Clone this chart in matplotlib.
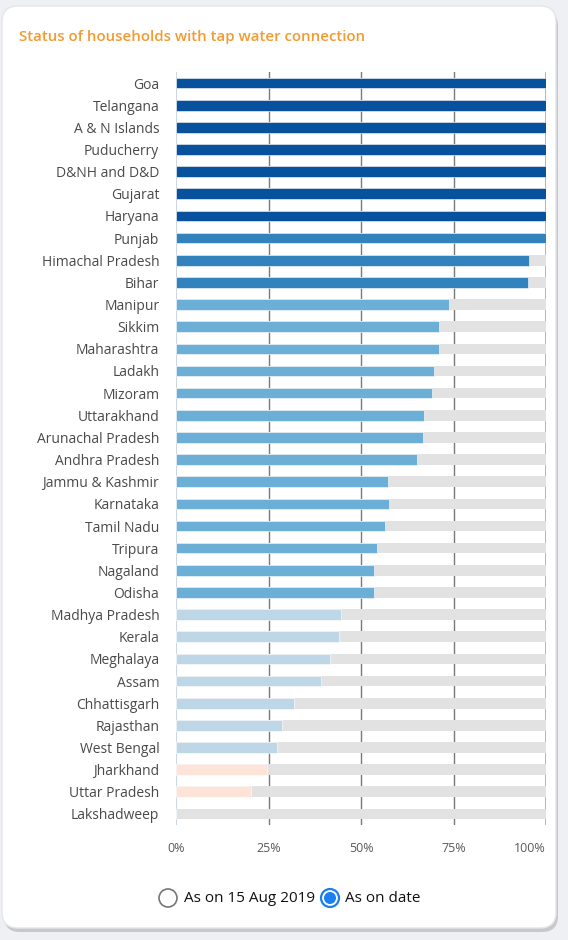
import matplotlib.pyplot as plt
from matplotlib.patches import FancyBboxPatch, Circle

states = ['Goa', 'Telangana', 'A & N Islands', 'Puducherry', 'D&NH and D&D',
          'Gujarat', 'Haryana', 'Punjab', 'Himachal Pradesh', 'Bihar',
          'Manipur', 'Sikkim', 'Maharashtra', 'Ladakh', 'Mizoram',
          'Uttarakhand', 'Arunachal Pradesh', 'Andhra Pradesh',
          'Jammu & Kashmir', 'Karnataka', 'Tamil Nadu', 'Tripura',
          'Nagaland', 'Odisha', 'Madhya Pradesh', 'Kerala', 'Meghalaya',
          'Assam', 'Chhattisgarh', 'Rajasthan', 'West Bengal', 'Jharkhand',
          'Uttar Pradesh', 'Lakshadweep']
coverage = [100, 100, 100, 100, 100, 100, 100, 99.9, 95.5, 95.1,
            73.8, 71.1, 71.1, 69.6, 69.2, 67.0, 66.8, 65.1, 57.3,
            57.5, 56.5, 54.4, 53.4, 53.4, 44.6, 44.0, 41.6, 39.2,
            31.8, 28.6, 27.4, 24.5, 20.2, 0.0]
tick_values = [0, 25, 50, 75, 100]
tick_labels = ['0%', '25%', '50%', '75%', '100%']


def bar_colour(v):
    if v >= 100:
        return '#08519c'
    if v >= 90:
        return '#3182bd'
    if v >= 50:
        return '#6baed6'
    if v >= 25:
        return '#bdd7e7'
    return '#fde3d8'


W, H = 568, 940
fig = plt.figure(figsize=(W / 100, H / 100), dpi=100)
fig.patch.set_facecolor('#eef0f3')

# background layer: card, title and the radio-button legend
bg = fig.add_axes([0, 0, 1, 1], zorder=0)
bg.set_xlim(0, W)
bg.set_ylim(H, 0)
bg.axis('off')
bg.add_patch(FancyBboxPatch((4, 10), 554, 922, boxstyle='round,pad=0,rounding_size=16',
                            facecolor='#c8c8c8', edgecolor='none'))
bg.add_patch(FancyBboxPatch((2, 6), 554, 922, boxstyle='round,pad=0,rounding_size=16',
                            facecolor='white', edgecolor='#e4e6ea', lw=1))
bg.text(19, 37, 'Status of households with tap water connection', color='#f39a30',
        fontsize=10.8, fontweight='semibold', family='Open Sans', va='center')

bg.add_patch(Circle((168, 898), 9, facecolor='white', edgecolor='#777777', lw=1.2))
bg.text(184, 898, 'As on 15 Aug 2019', fontsize=11, family='Open Sans',
        color='#111111', va='center')
bg.add_patch(Circle((330, 898), 9, facecolor='white', edgecolor='#1a7ff0', lw=1.6))
bg.add_patch(Circle((330, 898), 6, facecolor='#1a7ff0', edgecolor='none'))
bg.text(345, 898, 'As on date', fontsize=11, family='Open Sans',
        color='#111111', va='center')

# chart
ax = fig.add_axes([176 / W, 1 - 825 / H, 370 / W, 753 / H], zorder=1)
ax.set_facecolor('none')
rows = list(range(len(states)))

for x in [25, 50, 75]:
    ax.axvline(x, color='#7a7a7a', lw=1, zorder=0)
ax.axvline(0, color='#cdd7e2', lw=1.5, zorder=0)
ax.axvline(100, color='#a8a8a8', lw=1.2, zorder=0)

ax.barh(rows, [100] * len(states), height=0.48, color='#e2e2e2', zorder=1)
ax.barh(rows, coverage, height=0.48, color=[bar_colour(v) for v in coverage],
        edgecolor='white', lw=0.4, zorder=2)

ax.set_xlim(0, 100)
ax.set_ylim(len(states) - 0.5, -0.5)
for s in ax.spines.values():
    s.set_visible(False)
ax.set_yticks(rows)
ax.set_yticklabels(states, fontsize=10, family='Open Sans', color='#4a4a4a')
ax.tick_params(axis='y', length=0, pad=12)
ax.set_xticks(tick_values)
ax.set_xticklabels(tick_labels, fontsize=9, family='Open Sans', color='#5a5a5a')
ax.tick_params(axis='x', length=0, pad=12)
ax.get_xticklabels()[-1].set_ha('right')

fig.savefig('out.png', dpi=100, facecolor=fig.get_facecolor())
